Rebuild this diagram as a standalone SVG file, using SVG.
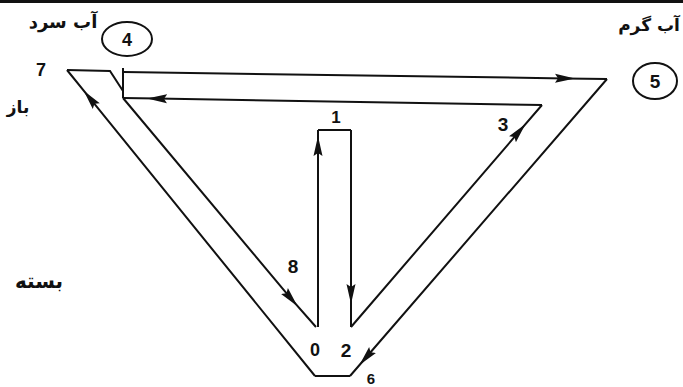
<svg xmlns="http://www.w3.org/2000/svg" width="683" height="387" viewBox="0 0 683 387">
<defs>
<marker id="arr" markerUnits="userSpaceOnUse" markerWidth="22" markerHeight="12" viewBox="-10 -6 22 12" refX="0" refY="0" orient="auto">
<path d="M-10,-4.5 L10,0 L-10,4.5 L-7,0 z" fill="#111"/>
</marker>
<style>
.ln{fill:none;stroke:#111;stroke-width:2;stroke-linejoin:miter}
.arw{fill:none;stroke:#111;stroke-width:2;marker-mid:url(#arr)}
.num{font-family:"Liberation Sans",Arial,sans-serif;font-weight:bold;fill:#111;text-anchor:middle}
.fa{font-family:"DejaVu Sans",sans-serif;font-weight:bold;fill:#111;text-anchor:middle}
.circ{fill:none;stroke:#111;stroke-width:2}
</style>
</defs>
<rect x="0" y="0" width="683" height="3" fill="#111"/>
<g id="connectors">
<path class="arw" d="M124,72 L565,78.4 L607,79"/>
<path class="arw" d="M607,79 L366,357.5 L350,376"/>
<path class="ln" d="M350,376 L315,376"/>
<path class="arw" d="M315,376 L90,98.4 L67,70"/>
<path class="ln" d="M67,70 L110,71 L123,91"/>
<path class="ln" d="M123,68 L123,98"/>
<path class="arw" d="M542,105 L157,98.6 L123,98"/>
<path class="arw" d="M123,98 L291,298.6 L316,327"/>
<path class="arw" d="M318,327 L318,146 L318,130"/>
<path class="ln" d="M318,130 L351,130"/>
<path class="arw" d="M351,130 L351,294 L351,327"/>
<path class="arw" d="M351,327 L519,131.7 L542,105"/>
</g>
<g id="node-4">
<ellipse class="circ" cx="127" cy="39" rx="25" ry="17"/>
<text class="num" x="127" y="46" font-size="18">4</text>
</g>
<g id="node-5">
<ellipse class="circ" cx="655" cy="81" rx="22" ry="18"/>
<text class="num" x="655" y="88" font-size="19">5</text>
</g>
<g id="label-cold"><text class="fa" x="63" y="28" font-size="18">آب سرد</text></g>
<g id="label-hot"><text class="fa" x="649" y="31" font-size="17">آب گرم</text></g>
<g id="label-open"><text class="fa" x="18" y="113" font-size="17">باز</text></g>
<g id="label-closed"><text class="fa" x="39" y="288" font-size="20">بسته</text></g>
<g id="point-7"><text class="num" x="41" y="76" font-size="18">7</text></g>
<g id="point-1"><text class="num" x="336" y="123" font-size="17">1</text></g>
<g id="point-3"><text class="num" x="503" y="131" font-size="19">3</text></g>
<g id="point-8"><text class="num" x="293" y="273" font-size="19">8</text></g>
<g id="point-0"><text class="num" x="315" y="356" font-size="18">0</text></g>
<g id="point-2"><text class="num" x="346" y="357" font-size="19">2</text></g>
<g id="point-6"><text class="num" x="371" y="384" font-size="15">6</text></g>
</svg>
